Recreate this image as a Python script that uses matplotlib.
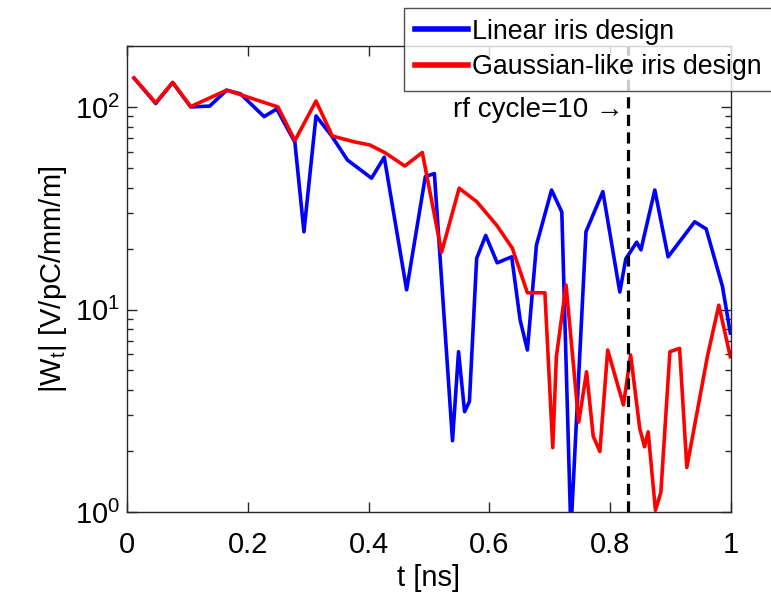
import matplotlib
matplotlib.use('Agg')
import matplotlib.pyplot as plt

# wake amplitude |Wt| vs time
t_linear = [0.0116, 0.0475, 0.0757, 0.1055, 0.137, 0.165, 0.188, 0.227, 0.248,
            0.278, 0.293, 0.313, 0.339, 0.365, 0.405, 0.426, 0.463, 0.494, 0.509,
            0.539, 0.549, 0.559, 0.567, 0.579, 0.594, 0.613, 0.637, 0.651, 0.663,
            0.678, 0.703, 0.720, 0.735, 0.760, 0.788, 0.816, 0.826, 0.844, 0.851,
            0.874, 0.896, 0.940, 0.959, 0.986, 0.999]
w_linear = [139, 104, 132, 100, 101, 121, 116, 89.6, 97.7,
            67, 24.2, 90.3, 71.9, 54.7, 44.5, 56.5, 12.5, 45.3, 46.9,
            2.25, 6.19, 3.13, 3.51, 17.9, 23.2, 17.0, 18.2, 8.87, 6.31,
            20.8, 38.9, 30.3, 0.8, 24.2, 38.2, 12.2, 17.8, 21.5, 19.7,
            38.9, 18.2, 27.1, 25.0, 13.0, 7.65]

t_gauss = [0.0116, 0.0475, 0.0757, 0.1055, 0.165, 0.250, 0.278, 0.313, 0.340,
           0.375, 0.402, 0.427, 0.460, 0.489, 0.521, 0.550, 0.579, 0.612, 0.638,
           0.663, 0.692, 0.705, 0.711, 0.727, 0.748, 0.761, 0.772, 0.783, 0.796,
           0.822, 0.834, 0.849, 0.857, 0.863, 0.875, 0.884, 0.899, 0.915, 0.927,
           0.961, 0.980, 0.999]
w_gauss = [139, 105, 132, 100.4, 121, 100, 68.2, 107, 71.9,
           67.4, 64.9, 59.5, 51.1, 59.6, 19.2, 39.7, 34.1, 26.1, 20.1,
           12.1, 12.1, 2.08, 5.85, 13.2, 2.78, 4.93, 2.37, 1.99, 6.31,
           3.38, 5.96, 2.59, 2.10, 2.49, 1.02, 1.25, 6.19, 6.43, 1.66,
           5.85, 10.5, 5.85]

rf_cycle_t = 0.83

plt.rcParams['font.family'] = ['Liberation Sans', 'DejaVu Sans']
plt.rcParams['mathtext.default'] = 'regular'

fig = plt.figure(figsize=(7.71, 6.01), dpi=100)
ax = fig.add_axes([0.1647, 0.148, 0.7833, 0.7755])

ax.semilogy(t_linear, w_linear, color='#0000ff', lw=2.6, label='Linear iris design')
ax.semilogy(t_gauss, w_gauss, color='#ff0000', lw=2.6, label='Gaussian-like iris design')
ax.axvline(rf_cycle_t, color='k', ls=(0, (3.5, 2)), lw=2.3)
ax.text(rf_cycle_t - 0.008, 97, 'rf cycle=10 \u2192', ha='right', va='center', fontsize=20)

ax.set_xlim(0, 1)
ax.set_ylim(1, 200)
ax.set_xticks([0, 0.2, 0.4, 0.6, 0.8, 1])
ax.set_xticklabels(['0', '0.2', '0.4', '0.6', '0.8', '1'])
ax.set_xlabel('t [ns]', fontsize=21, labelpad=3)
ax.set_ylabel('|W$_t$| [V/pC/mm/m]', fontsize=21, labelpad=4)

ax.tick_params(which='both', direction='in', top=True, right=True, labelsize=21,
               color='#262626')
ax.tick_params(which='major', length=7, width=1)
ax.tick_params(which='minor', length=4, width=1)
ax.tick_params(axis='x', pad=14)
ax.tick_params(axis='y', pad=5)
for s in ax.spines.values():
    s.set_color('#262626')
    s.set_linewidth(1)

leg = ax.legend(loc='upper left', bbox_to_anchor=(0.524, 0.987),
                bbox_transform=fig.transFigure, fontsize=19.3, frameon=True,
                fancybox=False, edgecolor='#262626', borderaxespad=0,
                handlelength=2.0, handletextpad=0.15, labelspacing=0.35,
                borderpad=0.4)
leg.get_frame().set_linewidth(1)
for line in leg.get_lines():
    line.set_linewidth(4)

fig.savefig('out.png', dpi=100)
